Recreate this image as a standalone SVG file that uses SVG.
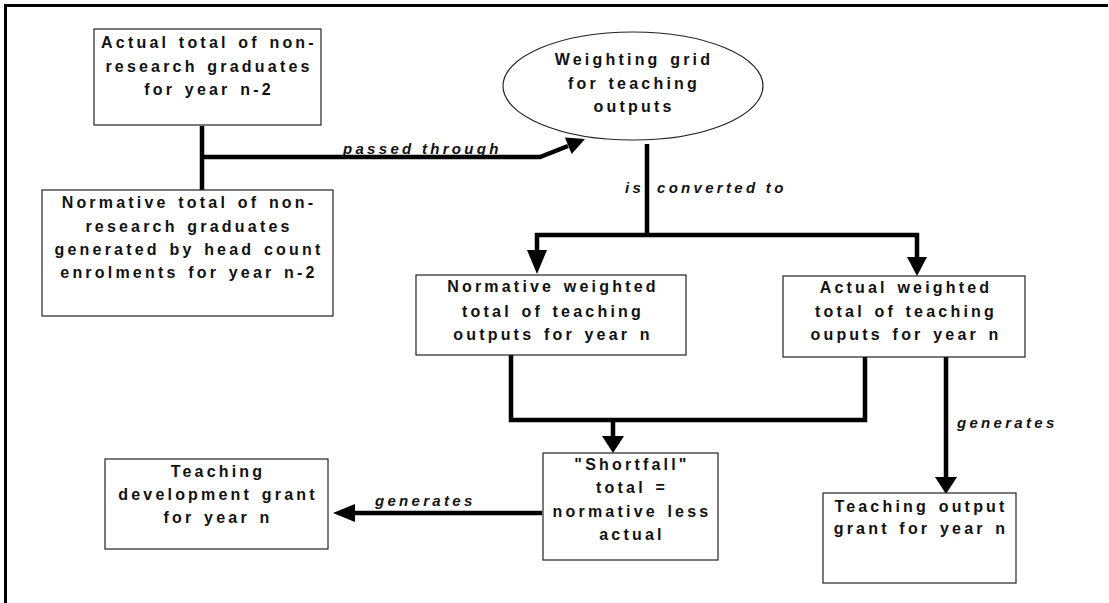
<svg xmlns="http://www.w3.org/2000/svg" width="1109" height="603" viewBox="0 0 1109 603">
<style>
.box{fill:#fff;stroke:#222;stroke-width:1.2}
.t{font-family:"Liberation Sans",Arial,sans-serif;font-weight:bold;font-size:16px;letter-spacing:3.2px;word-spacing:2px;fill:#111;text-anchor:middle}
.lbl{font-family:"Liberation Sans",Arial,sans-serif;font-weight:bold;font-style:italic;font-size:15px;letter-spacing:3.3px;fill:#111}
.c{fill:none;stroke:#000;stroke-width:4.5;stroke-linecap:butt;stroke-linejoin:miter}
.ah{fill:#000;stroke:none}
</style>
<rect width="1109" height="603" fill="#fff"/>
<g id="frame">
<line x1="4" y1="5.5" x2="1108" y2="5.5" stroke="#000" stroke-width="3"/>
<line x1="5.5" y1="4" x2="5.5" y2="603" stroke="#000" stroke-width="3"/>
</g>
<g id="connectors">
<path class="c" d="M202,126 V190"/>
<path class="c" d="M202,157 H540 L568,146"/>
<polygon class="ah" points="585,139 571.7,154.1 564.9,137.5"/>
<text class="lbl" x="343" y="154">passed through</text>
<path class="c" d="M647,144 V235"/>
<path class="c" d="M537,252 V235 H917 V257"/>
<polygon class="ah" points="527,250 547,250 537,274"/>
<polygon class="ah" points="907,257 927,257 917,276"/>
<text class="lbl" x="625" y="193">is</text>
<text class="lbl" x="657" y="193">converted to</text>
<path class="c" d="M511,355 V420 H865 V357"/>
<path class="c" d="M613,420 V437"/>
<polygon class="ah" points="602,436 624,436 613,453"/>
<path class="c" d="M542,513 H354"/>
<polygon class="ah" points="333,513 355,504 355,522"/>
<text class="lbl" x="375" y="506">generates</text>
<path class="c" d="M946,357 V478"/>
<polygon class="ah" points="935,477 957,477 946,494"/>
<text class="lbl" x="957" y="428">generates</text>
</g>
<g id="n_actual_grad">
<rect class="box" x="94" y="29" width="227" height="96"/>
<text class="t" x="209" y="48">Actual total of non-</text>
<text class="t" x="209" y="72">research graduates</text>
<text class="t" x="209" y="95">for year n-2</text>
</g>
<g id="n_norm_grad">
<rect class="box" x="42" y="190" width="291" height="126"/>
<text class="t" x="189" y="208">Normative total of non-</text>
<text class="t" x="189" y="232">research graduates</text>
<text class="t" x="189" y="255">generated by head count</text>
<text class="t" x="189" y="278">enrolments for year n-2</text>
</g>
<g id="n_grid">
<ellipse class="box" cx="633" cy="86" rx="130" ry="54"/>
<text class="t" x="634" y="65">Weighting grid</text>
<text class="t" x="634" y="89">for teaching</text>
<text class="t" x="634" y="112">outputs</text>
</g>
<g id="n_norm_weighted">
<rect class="box" x="416" y="275" width="270" height="80"/>
<text class="t" x="553" y="292">Normative weighted</text>
<text class="t" x="553" y="317">total of teaching</text>
<text class="t" x="553" y="340">outputs for year n</text>
</g>
<g id="n_actual_weighted">
<rect class="box" x="783" y="276" width="242" height="81"/>
<text class="t" x="906" y="293">Actual weighted</text>
<text class="t" x="906" y="317">total of teaching</text>
<text class="t" x="906" y="340">ouputs for year n</text>
</g>
<g id="n_shortfall">
<rect class="box" x="543" y="453" width="175" height="107"/>
<text class="t" x="632" y="470">"Shortfall"</text>
<text class="t" x="632" y="493">total =</text>
<text class="t" x="632" y="517">normative less</text>
<text class="t" x="632" y="540">actual</text>
</g>
<g id="n_tdg">
<rect class="box" x="105" y="459" width="223" height="90"/>
<text class="t" x="218" y="477">Teaching</text>
<text class="t" x="218" y="500">development grant</text>
<text class="t" x="218" y="523">for year n</text>
</g>
<g id="n_tog">
<rect class="box" x="823" y="493" width="193" height="90"/>
<text class="t" x="921" y="512">Teaching output</text>
<text class="t" x="921" y="534">grant for year n</text>
</g>
</svg>
